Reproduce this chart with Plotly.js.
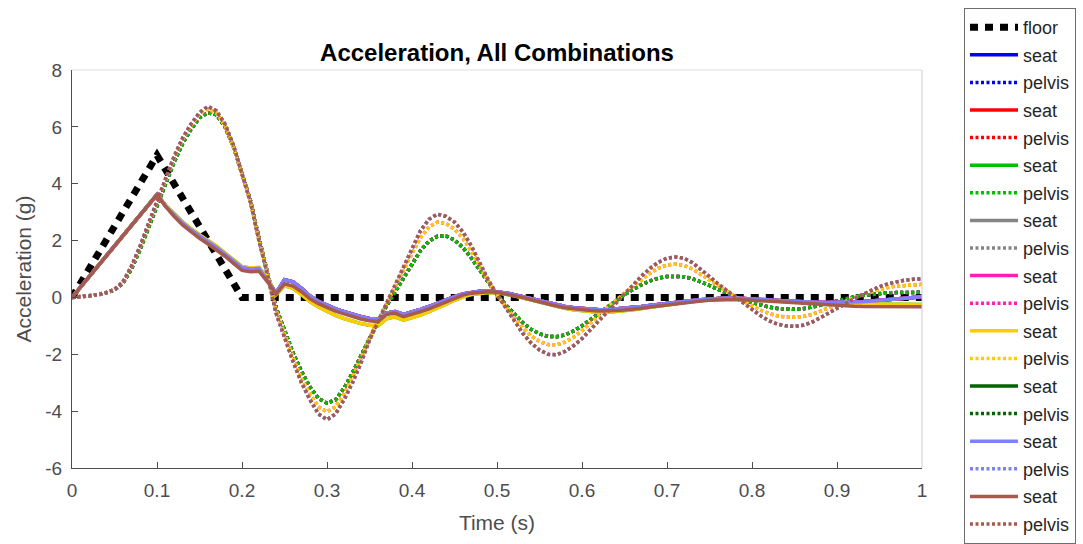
<!DOCTYPE html>
<html>
<head>
<meta charset="utf-8">
<script src="https://cdn.plot.ly/plotly-3.0.1.min.js"></script>
<style>html,body{margin:0;padding:0;background:#fff;}#chart{width:1083px;height:544px;}</style>
</head>
<body>
<div id="chart"></div>
<script>
// ---- data ----
var timeS = [0,0.01,0.02,0.03,0.04,0.05,0.06,0.07,0.08,0.09,
 0.1,0.11,0.12,0.13,0.14,0.15,0.16,0.17,0.18,0.19,
 0.2,0.21,0.22,0.23,0.24,0.25,0.26,0.27,0.28,0.29,
 0.3,0.31,0.32,0.33,0.34,0.35,0.36,0.37,0.38,0.39,
 0.4,0.41,0.42,0.43,0.44,0.45,0.46,0.47,0.48,0.49,
 0.5,0.51,0.52,0.53,0.54,0.55,0.56,0.57,0.58,0.59,
 0.6,0.61,0.62,0.63,0.64,0.65,0.66,0.67,0.68,0.69,
 0.7,0.71,0.72,0.73,0.74,0.75,0.76,0.77,0.78,0.79,
 0.8,0.81,0.82,0.83,0.84,0.85,0.86,0.87,0.88,0.89,
 0.9,0.91,0.92,0.93,0.94,0.95,0.96,0.97,0.98,0.99,
 1.0];

var floorTime = [0, 0.1, 0.2, 1.0];
var floorAcc  = [0, 5.0, 0, 0];

var pelvisHigh = [0,0.02,0.05,0.1,0.17,0.28,0.55,1.1,1.8,2.6,
 3.4,4.2,4.95,5.6,6.1,6.5,6.72,6.56,6.1,5.35,
 4.3,3.35,2.0,0.8,-0.55,-1.4,-2.25,-3.0,-3.6,-4.1,
 -4.3,-4.1,-3.6,-3.0,-2.3,-1.5,-0.85,-0.2,0.4,1.05,
 1.7,2.35,2.75,2.93,2.85,2.65,2.3,1.8,1.2,0.6,
 0.1,-0.35,-0.8,-1.25,-1.6,-1.85,-2.0,-2.02,-1.9,-1.7,
 -1.45,-1.12,-0.8,-0.5,-0.2,0.12,0.42,0.75,1.02,1.24,
 1.38,1.42,1.38,1.22,0.98,0.72,0.48,0.25,0.03,-0.2,
 -0.42,-0.64,-0.82,-0.94,-1.0,-1.02,-0.98,-0.88,-0.72,-0.55,
 -0.37,-0.2,-0.05,0.1,0.25,0.38,0.48,0.56,0.61,0.64,
 0.65];

var pelvisMid = [0,0.02,0.05,0.1,0.17,0.28,0.54,1.08,1.77,2.56,
 3.35,4.15,4.9,5.55,6.05,6.45,6.63,6.48,6.04,5.3,
 4.28,3.35,2.02,0.85,-0.45,-1.3,-2.1,-2.85,-3.4,-3.85,
 -4.02,-3.85,-3.4,-2.8,-2.15,-1.42,-0.82,-0.22,0.35,0.95,
 1.55,2.1,2.48,2.65,2.6,2.4,2.08,1.62,1.08,0.55,
 0.08,-0.32,-0.7,-1.05,-1.35,-1.55,-1.66,-1.67,-1.57,-1.4,
 -1.17,-0.9,-0.62,-0.36,-0.1,0.15,0.38,0.64,0.85,1.03,
 1.14,1.17,1.13,1.0,0.8,0.6,0.4,0.2,0.03,-0.14,
 -0.3,-0.45,-0.56,-0.65,-0.69,-0.7,-0.67,-0.6,-0.49,-0.37,
 -0.25,-0.12,0.0,0.1,0.2,0.28,0.35,0.4,0.43,0.45,
 0.46];

var pelvisLow = [0,0.02,0.05,0.09,0.16,0.26,0.5,1.0,1.68,2.45,
 3.25,4.02,4.75,5.4,5.92,6.32,6.5,6.42,6.0,5.3,
 4.3,3.4,2.08,0.9,-0.35,-1.15,-1.95,-2.6,-3.15,-3.55,
 -3.72,-3.6,-3.2,-2.65,-2.05,-1.4,-0.85,-0.3,0.2,0.7,
 1.2,1.65,1.98,2.15,2.16,2.02,1.75,1.38,0.95,0.5,
 0.1,-0.25,-0.58,-0.88,-1.12,-1.28,-1.37,-1.38,-1.32,-1.18,
 -1.0,-0.78,-0.55,-0.32,-0.1,0.1,0.28,0.45,0.58,0.68,
 0.74,0.75,0.73,0.66,0.55,0.42,0.28,0.15,0.03,-0.08,
 -0.18,-0.27,-0.34,-0.39,-0.42,-0.42,-0.4,-0.35,-0.28,-0.2,
 -0.12,-0.05,0.02,0.07,0.11,0.14,0.16,0.17,0.18,0.18,
 0.18];

var seatBrown = [0,0.36,0.72,1.08,1.44,1.8,2.16,2.52,2.88,3.24,
 3.62,3.2,2.85,2.55,2.3,2.08,1.88,1.68,1.45,1.2,
 0.95,0.9,0.92,0.55,0.12,0.48,0.4,0.2,-0.05,-0.22,
 -0.36,-0.48,-0.58,-0.68,-0.76,-0.82,-0.85,-0.6,-0.55,-0.68,
 -0.6,-0.5,-0.4,-0.28,-0.14,-0.02,0.08,0.15,0.19,0.2,
 0.18,0.13,0.07,0.0,-0.08,-0.16,-0.24,-0.3,-0.36,-0.4,
 -0.43,-0.46,-0.48,-0.48,-0.46,-0.44,-0.42,-0.38,-0.34,-0.3,
 -0.27,-0.24,-0.2,-0.17,-0.13,-0.1,-0.08,-0.07,-0.07,-0.08,
 -0.1,-0.12,-0.14,-0.16,-0.18,-0.2,-0.21,-0.23,-0.25,-0.27,
 -0.28,-0.3,-0.31,-0.32,-0.32,-0.33,-0.33,-0.33,-0.33,-0.33,
 -0.33];

var seatBlue = [0,0.36,0.72,1.08,1.44,1.8,2.16,2.52,2.88,3.24,
 3.62,3.22,2.9,2.62,2.38,2.16,1.96,1.76,1.53,1.28,
 1.05,1.0,1.02,0.6,0.15,0.62,0.55,0.32,0.05,-0.14,
 -0.28,-0.4,-0.5,-0.6,-0.68,-0.74,-0.77,-0.55,-0.5,-0.6,
 -0.52,-0.42,-0.32,-0.2,-0.08,0.03,0.12,0.18,0.22,0.23,
 0.21,0.16,0.1,0.03,-0.05,-0.13,-0.2,-0.27,-0.32,-0.36,
 -0.39,-0.42,-0.43,-0.43,-0.41,-0.38,-0.35,-0.32,-0.28,-0.24,
 -0.21,-0.18,-0.14,-0.11,-0.08,-0.05,-0.03,-0.02,-0.02,-0.03,
 -0.05,-0.07,-0.09,-0.11,-0.13,-0.15,-0.16,-0.17,-0.18,-0.18,
 -0.18,-0.17,-0.16,-0.15,-0.13,-0.11,-0.09,-0.06,-0.03,0.0,
 0.03];

var seatGreen = [0,0.36,0.72,1.08,1.44,1.8,2.16,2.52,2.88,3.24,
 3.62,3.24,2.93,2.66,2.42,2.2,2.0,1.8,1.57,1.32,
 1.08,1.04,1.05,0.7,0.1,0.42,0.32,0.1,-0.15,-0.34,
 -0.5,-0.63,-0.74,-0.84,-0.92,-0.98,-1.0,-0.75,-0.68,-0.8,
 -0.72,-0.62,-0.5,-0.38,-0.24,-0.1,0.02,0.1,0.15,0.17,
 0.16,0.12,0.06,-0.01,-0.09,-0.17,-0.25,-0.32,-0.38,-0.43,
 -0.47,-0.5,-0.52,-0.52,-0.5,-0.47,-0.43,-0.39,-0.34,-0.3,
 -0.26,-0.22,-0.18,-0.14,-0.11,-0.08,-0.06,-0.05,-0.05,-0.06,
 -0.08,-0.1,-0.12,-0.14,-0.16,-0.18,-0.19,-0.2,-0.21,-0.22,
 -0.22,-0.23,-0.23,-0.23,-0.23,-0.24,-0.24,-0.24,-0.25,-0.25,
 -0.25];

var pairColors = ['#0000ff','#ff0000','#00c000','#858585','#ff1fb4','#ffcc00','#006400','#8080ff','#a65a4e'];
var seatSets   = [seatBlue, seatBlue, seatGreen, seatBlue, seatBlue, seatGreen, seatBlue, seatBlue, seatBrown];
var pelvisSets = [pelvisLow, pelvisLow, pelvisLow, pelvisHigh, pelvisMid, pelvisMid, pelvisLow, pelvisHigh, pelvisHigh];
var drawOrder  = [6, 0, 1, 2, 3, 4, 5, 7, 8];
var seatName = 'seat', pelvisName = 'pelvis', floorName = 'floor';

var xTickVals = [0,0.1,0.2,0.3,0.4,0.5,0.6,0.7,0.8,0.9,1];
var xTickText = ['0','0.1','0.2','0.3','0.4','0.5','0.6','0.7','0.8','0.9','1'];
var yTickVals = [-6,-4,-2,0,2,4,6,8];
var yTickText = ['-6','-4','-2','0','2','4','6','8'];

// ---- traces ----
var traces = [];
traces.push({x: floorTime, y: floorAcc, type:'scatter', mode:'lines', name: floorName,
  legendgroup:'g0', legendrank:1, line:{color:'#000000', width:7, dash:'8px,7px'}});
for (var k = 0; k < drawOrder.length; k++) {
  var i = drawOrder[k];
  traces.push({x: timeS, y: seatSets[i], type:'scatter', mode:'lines', name: seatName,
    legendgroup:'s'+i, legendrank: 2 + 2*i, line:{color: pairColors[i], width:3.5}});
  traces.push({x: timeS, y: pelvisSets[i], type:'scatter', mode:'lines', name: pelvisName,
    legendgroup:'p'+i, legendrank: 3 + 2*i, line:{color: pairColors[i], width:3.5, dash:'3px,2.5px'}});
}

var axisGray = '#4d4d4d';
var fontFam = 'Liberation Sans, Arial, sans-serif';
var layout = {
  width:1083, height:544,
  margin:{l:72, r:161, t:70, b:76, pad:0},
  paper_bgcolor:'#ffffff', plot_bgcolor:'#ffffff',
  font:{family:fontFam, color:axisGray},
  title:{text:'Acceleration, All Combinations', font:{family:fontFam, size:24, color:'#000000', weight:'bold'},
    xref:'paper', x:0.5, xanchor:'center', yref:'container', y:1-53/544, yanchor:'middle'},
  xaxis:{range:[0,1], tickvals:xTickVals, ticktext:xTickText, ticks:'inside', ticklen:6, tickwidth:1,
    tickcolor:axisGray, showline:true, linecolor:axisGray, linewidth:1, showgrid:false, zeroline:false,
    tickfont:{size:19, color:axisGray}, ticklabelstandoff:5,
    title:{text:'Time (s)', font:{size:21, color:axisGray}, standoff:15}},
  yaxis:{range:[-6,8], tickvals:yTickVals, ticktext:yTickText, ticks:'inside', ticklen:6, tickwidth:1,
    tickcolor:axisGray, showline:true, linecolor:axisGray, linewidth:1, showgrid:false, zeroline:false,
    tickfont:{size:19, color:axisGray}, ticklabelstandoff:5,
    title:{text:'Acceleration (g)', font:{size:21, color:axisGray}, standoff:7}},
  shapes:[
    {type:'line', xref:'paper', yref:'paper', x0:0, x1:1, y0:1, y1:1, line:{color:'#dddddd', width:1}},
    {type:'line', xref:'paper', yref:'paper', x0:1, x1:1, y0:0, y1:1, line:{color:'#cccccc', width:1}}
  ],
  showlegend:true,
  legend:{xref:'container', yref:'container', x:964/1083, xanchor:'left', y:1 - 8/544, yanchor:'top',
    maxheight:540, bgcolor:'#ffffff',
    bordercolor:'#6e6e6e', borderwidth:1, font:{family:fontFam, size:18, color:'#262626'},
    itemwidth:48, traceorder:'grouped', tracegroupgap:1.2}
};

Plotly.newPlot('chart', traces, layout, {displayModeBar:false, staticPlot:true});
</script>
</body>
</html>
